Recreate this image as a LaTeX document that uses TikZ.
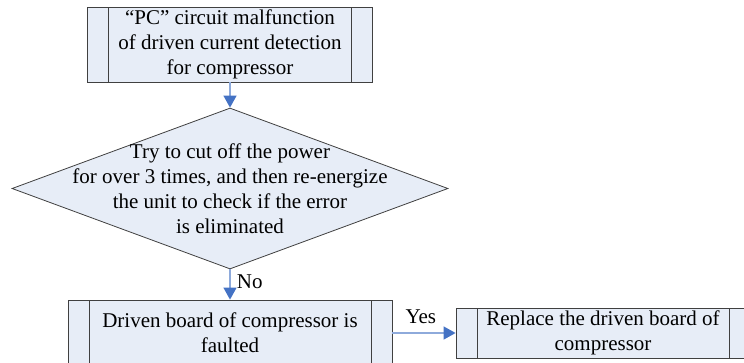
\documentclass[tikz,border=0pt]{standalone}
\usepackage{fontspec}
\setmainfont{Liberation Serif}
\usepackage{tikz}
\usetikzlibrary{arrows.meta,shapes.geometric,positioning}

\definecolor{boxfill}{RGB}{231,237,247}
\definecolor{boxline}{RGB}{64,64,64}
\definecolor{shaftblue}{RGB}{142,170,219}
\definecolor{tipblue}{RGB}{68,114,196}

\begin{document}
\begin{tikzpicture}[x=1pt,y=-1pt,font=\fontsize{21}{25}\selectfont]
    \tikzset{procbox/.style = {shape=rectangle,draw=boxline,fill=boxfill,line width=0.8pt,inner sep=0pt,align=center,
        path picture={\draw[boxline,line width=0.8pt] ([xshift=21pt]path picture bounding box.north west) -- ([xshift=21pt]path picture bounding box.south west);
                      \draw[boxline,line width=0.8pt] ([xshift=-21pt]path picture bounding box.north east) -- ([xshift=-21pt]path picture bounding box.south east);}}}
    \tikzset{decision/.style = {shape=diamond,draw=boxline,fill=boxfill,line width=0.8pt,inner sep=0pt,minimum width=436pt,minimum height=161pt}}
    \tikzset{edge/.style = {-{Triangle[length=12pt,width=13pt,color=tipblue]},draw=shaftblue,line width=1.3pt}}

    \useasboundingbox (0,0) rectangle (744,362);

    \node[procbox, minimum width=285pt, minimum height=75pt] (pc) at (230, 44.5) {“PC” circuit malfunction\\of driven current detection\\for compressor};
    \node[decision, label={[align=center]center:{Try to cut off the power\\for over 3 times, and then re-energize\\the unit to check if the error\\is eliminated}}] (check) at (230, 188.5) {};
    \node[procbox, minimum width=324pt, minimum height=66pt] (faulted) at (230, 333) {Driven board of compressor is\\faulted};
    \node[procbox, minimum width=294pt, minimum height=50pt] (replace) at (603, 333) {Replace the driven board of\\compressor};

    \draw[edge] (pc) -- (check);
    \draw[edge] (check) -- node[right, pos=0.4, xshift=3pt, text=black] {No} (faulted);
    \draw[edge] (faulted) -- node[above, pos=0.45, yshift=5pt, text=black] {Yes} (replace);

\end{tikzpicture}
\end{document}
